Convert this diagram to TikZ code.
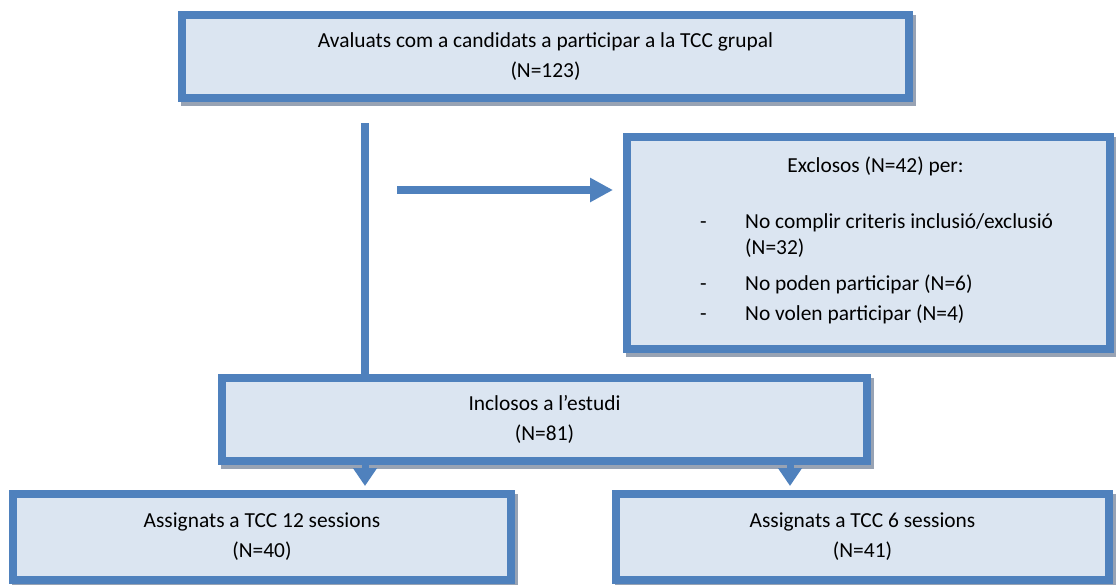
\documentclass[tikz,border=0pt]{standalone}
\usepackage{fontspec}
\setmainfont{Carlito}
\usetikzlibrary{arrows.meta,shadows}
\definecolor{boxline}{RGB}{79,129,189}
\definecolor{boxfill}{RGB}{219,229,241}
\definecolor{boxshade}{RGB}{152,163,180}
\begin{document}
\begin{tikzpicture}[x=1pt, y=-1pt,
    flowbox/.style={rectangle, draw=boxline, fill=boxfill, line width=8pt, inner sep=0pt,
      align=center, font=\fontsize{21.4}{30}\selectfont,
      drop shadow={shadow xshift=3pt, shadow yshift=-4pt, draw=boxshade, fill=boxshade, opacity=1}},
    flowline/.style={draw=boxline, line width=8pt},
    flowarrow/.style={draw=boxline, fill=boxline, line width=7pt, -{Triangle[width=23pt,length=18pt]}, shorten >=4pt}]
  \useasboundingbox (0,0) rectangle (1116,584);
  \draw
    (545.5,56.5) node[flowbox, minimum width=727pt, minimum height=83pt] (aval){Avaluats com a candidats a participar a la TCC grupal\\(N=123)}
    (868.5,243) node[flowbox, minimum width=483pt, minimum height=212pt] (excl){}
    (544.5,419.5) node[flowbox, minimum width=645pt, minimum height=83pt] (incl){Inclosos a l’estudi\\(N=81)}
    (262,537) node[flowbox, minimum width=498pt, minimum height=86pt] (tcc12){Assignats a TCC 12 sessions\\(N=40)}
    (862.5,537) node[flowbox, minimum width=493pt, minimum height=86pt] (tcc6){Assignats a TCC 6 sessions\\(N=41)};
  % text of the exclusion box
  \node[anchor=base, inner sep=0pt, font=\fontsize{21.4}{26}\selectfont] (exclhead) at (875.5,172) {Exclosos (N=42) per:};
  \node[anchor=base west, align=left, inner sep=0pt, font=\fontsize{21.4}{26}\selectfont] (excllist) at (700,320)
    {\makebox[45pt][l]{-}No complir criteris inclusió/exclusió\\
     \hspace*{45pt}(N=32)\\[10pt]
     \makebox[45pt][l]{-}No poden participar (N=6)\\[4pt]
     \makebox[45pt][l]{-}No volen participar (N=4)};
  \coordinate (vtop) at (365,123);
  \coordinate (hbeg) at (397,190);
  \coordinate (hend) at (613,190);
  \coordinate (lsplit) at (365,465);
  \coordinate (rsplit) at (790,465);
  \begin{scope}
    \draw[flowline] (vtop) -- (vtop |- incl.north);
    \draw[flowarrow, line width=8pt, -{Triangle[width=23pt,length=23pt]}, shorten >=0pt] (hbeg) -- (hend);
    \draw[flowarrow] (lsplit) -- (lsplit |- tcc12.north);
    \draw[flowarrow] (rsplit) -- (rsplit |- tcc6.north);
  \end{scope}
\end{tikzpicture}
\end{document}
